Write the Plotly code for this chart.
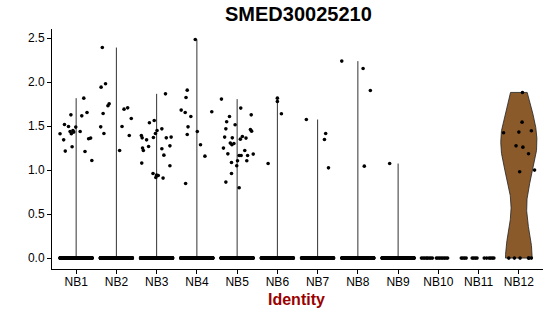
import numpy as np
import plotly.graph_objects as go

clusters = ["NB1", "NB2", "NB3", "NB4", "NB5", "NB6", "NB7", "NB8", "NB9", "NB10", "NB11", "NB12"]

# non-zero expression values per cluster and their horizontal jitter (in category units)
nb1_vals = [1.413, 1.518, 1.496, 1.344, 1.216, 1.628, 1.439, 1.413, 1.432, 1.265, 1.489, 1.439, 1.617, 1.818, 1.655, 1.211, 1.356, 1.364, 1.109, 1.45]
nb1_jit = [-0.40, -0.29, -0.19, -0.31, -0.27, -0.13, -0.15, -0.12, -0.06, -0.10, -0.01, 0.10, 0.14, 0.19, 0.27, 0.22, 0.31, 0.36, 0.39, -0.08]
nb2_vals = [2.393, 1.943, 1.981, 1.731, 1.753, 1.643, 1.492, 1.416, 1.693, 1.708, 1.586, 1.496, 1.393, 1.223]
nb2_jit = [-0.35, -0.38, -0.27, -0.21, -0.18, -0.33, -0.39, -0.31, 0.19, 0.28, 0.37, 0.14, 0.32, 0.08]
nb3_vals = [1.867, 1.538, 1.564, 1.469, 1.45, 1.416, 1.371, 1.393, 1.367, 1.344, 1.367, 1.375, 1.25, 1.223, 1.268, 1.242, 1.276, 1.17, 1.08, 1.049, 0.961, 0.943, 0.939, 0.916, 0.909]
nb3_jit = [0.22, -0.18, -0.06, 0.13, 0.01, -0.03, -0.08, -0.38, -0.36, -0.25, 0.24, 0.36, -0.35, -0.33, -0.20, 0.13, 0.33, 0.18, -0.37, 0.33, -0.09, 0.0, 0.04, -0.02, 0.16]
nb4_vals = [2.484, 1.909, 1.825, 1.682, 1.655, 1.609, 1.663, 1.492, 1.405, 1.439, 1.288, 1.159, 0.848]
nb4_jit = [-0.04, -0.24, -0.27, -0.39, -0.29, -0.15, 0.37, -0.22, -0.24, 0.01, 0.09, 0.20, -0.28]
nb5_vals = [1.807, 1.705, 1.609, 1.628, 1.549, 1.515, 1.469, 1.461, 1.443, 1.375, 1.367, 1.382, 1.364, 1.352, 1.307, 1.288, 1.302, 1.25, 1.223, 1.185, 1.166, 1.166, 1.166, 1.182, 1.106, 1.106, 1.086, 1.049, 0.961, 0.864, 0.799]
nb5_jit = [-0.39, 0.09, -0.19, 0.35, -0.26, -0.05, -0.28, 0.33, 0.36, -0.31, -0.12, 0.13, 0.22, 0.08, -0.17, -0.13, -0.08, -0.34, 0.19, -0.23, 0.05, 0.10, 0.26, 0.40, 0.01, 0.24, -0.14, -0.01, -0.14, -0.28, 0.05]
nb6_vals = [1.818, 1.78, 1.64, 1.075]
nb6_jit = [0.0, 0.0, 0.10, -0.23]
nb7_vals = [1.575, 1.416, 1.348, 1.026]
nb7_jit = [-0.28, 0.20, 0.17, 0.27]
nb8_vals = [2.239, 2.155, 1.905, 1.045]
nb8_jit = [-0.40, 0.13, 0.31, 0.16]
nb9_vals = [1.075]
nb9_jit = [-0.21]
nb10_vals = []
nb10_jit = []
nb11_vals = []
nb11_jit = []
nb12_vals = [1.883, 1.545, 1.424, 1.432, 1.447, 1.276, 1.261, 1.186, 0.981, 1.0]
nb12_jit = [0.09, 0.08, -0.38, 0.0, 0.31, -0.07, 0.10, 0.24, 0.02, 0.39]

# number of cells with zero expression per cluster
zero_counts = [300, 300, 300, 300, 300, 200, 200, 200, 200, 16, 14, 6]
# explicit jitter for the sparse zero groups
nb10_zero_jit = [-0.42, -0.38, -0.34, -0.30, -0.27, -0.23, -0.19, -0.15, -0.05, -0.01, 0.03, 0.07, 0.11, 0.15, 0.19, 0.23]
nb11_zero_jit = [-0.43, -0.39, -0.35, -0.31, -0.16, -0.12, -0.08, -0.04, 0.14, 0.20, 0.26, 0.30, 0.34, 0.38]
nb12_zero_jit = [-0.25, -0.11, 0.03, 0.24, 0.31, 0.25]

vals_list = [nb1_vals, nb2_vals, nb3_vals, nb4_vals, nb5_vals, nb6_vals, nb7_vals, nb8_vals, nb9_vals, nb10_vals, nb11_vals, nb12_vals]
jit_list = [nb1_jit, nb2_jit, nb3_jit, nb4_jit, nb5_jit, nb6_jit, nb7_jit, nb8_jit, nb9_jit, nb10_jit, nb11_jit, nb12_jit]
zero_jit_explicit = {9: nb10_zero_jit, 10: nb11_zero_jit, 11: nb12_zero_jit}

violin_fill = {11: "#8B5A2B"}

FONT = "Liberation Sans, Arial, Helvetica, sans-serif"

fig = go.Figure()


def bw_nrd0(x):
    x = np.asarray(x, dtype=float)
    hi = np.std(x, ddof=1)
    q75, q25 = np.percentile(x, [75, 25])
    lo = min(hi, (q75 - q25) / 1.34)
    if lo == 0:
        lo = hi
    return 0.9 * lo * len(x) ** -0.2


# violins (thin lines for clusters dominated by zeros, full shape when filled)
for i, name in enumerate(clusters):
    allv = list(vals_list[i]) + [0.0] * zero_counts[i]
    vmax = max(allv)
    if vmax <= 0:
        continue
    if i in violin_fill:
        x = np.asarray(allv)
        bw = bw_nrd0(x)
        grid = np.linspace(x.min(), x.max(), 512)
        dens = np.exp(-0.5 * ((grid[:, None] - x[None, :]) / bw) ** 2).sum(axis=1)
        hw = 0.45 * dens / dens.max()
        px = np.concatenate([i + hw, (i - hw)[::-1], [i + hw[0]]])
        py = np.concatenate([grid, grid[::-1], [grid[0]]])
        fig.add_trace(go.Scatter(x=px, y=py, mode="lines", fill="toself",
                                 fillcolor=violin_fill[i],
                                 line=dict(color="#222222", width=0.8),
                                 hoverinfo="skip", showlegend=False))
    else:
        fig.add_trace(go.Scatter(x=[i, i], y=[0, vmax], mode="lines",
                                 line=dict(color="#333333", width=1),
                                 hoverinfo="skip", showlegend=False))

# jittered points
px_all, py_all = [], []
golden = 0.6180339887
for i, name in enumerate(clusters):
    n0 = zero_counts[i]
    if i in zero_jit_explicit:
        zj = zero_jit_explicit[i]
    else:
        zj = [((k * golden) % 1.0) * 0.8 - 0.4 for k in range(n0)]
    for j in zj:
        px_all.append(i + j)
        py_all.append(0.0)
    for v, j in zip(vals_list[i], jit_list[i]):
        px_all.append(i + j)
        py_all.append(v)

fig.add_trace(go.Scatter(x=px_all, y=py_all, mode="markers",
                         marker=dict(color="black", size=3.6, line=dict(width=0)),
                         hoverinfo="skip", showlegend=False))

fig.update_layout(
    width=550, height=316,
    margin=dict(l=52, r=7, t=29, b=47),
    plot_bgcolor="white", paper_bgcolor="white",
    font=dict(family=FONT, color="black"),
    showlegend=False,
    xaxis=dict(range=[-0.6, 11.6], tickmode="array", tickvals=list(range(12)), ticktext=clusters,
               showgrid=False, zeroline=False, showline=True, linecolor="black", linewidth=1,
               ticks="outside", ticklen=4, tickcolor="black", tickwidth=1, ticklabelstandoff=-2,
               tickfont=dict(size=12, color="black", family=FONT)),
    yaxis=dict(range=[-0.124, 2.604], tickmode="array", tickvals=[0, 0.5, 1.0, 1.5, 2.0, 2.5],
               ticktext=["0.0", "0.5", "1.0", "1.5", "2.0", "2.5"],
               showgrid=False, zeroline=False, showline=True, linecolor="black", linewidth=1,
               ticks="outside", ticklen=4, tickcolor="black", tickwidth=1,
               tickfont=dict(size=12, color="black", family=FONT)),
    annotations=[
        dict(text="<b>SMED30025210</b>", xref="paper", yref="paper", x=0.503, y=1.064,
             xanchor="center", yanchor="middle", showarrow=False,
             font=dict(size=20, color="black", family=FONT)),
        dict(text="<b>Identity</b>", xref="paper", yref="paper", x=0.4985, y=-0.127,
             xanchor="center", yanchor="middle", showarrow=False,
             font=dict(size=16, color="#9B0000", family=FONT)),
    ],
)

fig.write_html("out.html")
